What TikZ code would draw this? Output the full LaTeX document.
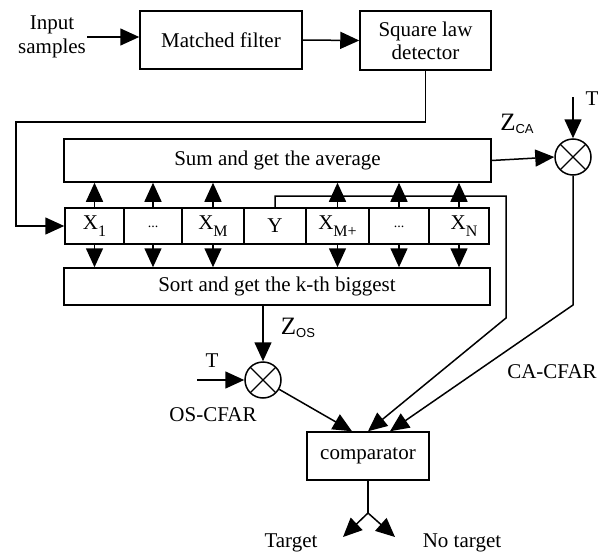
\documentclass[tikz,border=0pt]{standalone}
\usepackage{fontspec}
\setmainfont{Liberation Serif}
\setsansfont{Liberation Sans}
\usetikzlibrary{arrows.meta,calc}
\newcommand\lowsub[1]{\raisebox{-0.7ex}{\fontsize{16}{16}\selectfont #1}}
\newcommand\sfsub[1]{\raisebox{-0.3ex}{\sffamily\fontsize{13}{13}\selectfont #1}}
\tikzset{
  line/.style={line width=1.5pt},
  arr/.style={line width=1.5pt,-{Triangle[length=19pt,width=17pt]}},
  box/.style={draw,line width=1.5pt,rectangle,inner sep=0pt,align=center,font=\fontsize{21}{23}\selectfont},
  cell/.style={box,minimum height=36pt},
  mult/.style={draw,line width=1.5pt,circle,minimum size=36pt,inner sep=0pt,path picture={
      \draw[line width=1.1pt] (path picture bounding box.north west)--(path picture bounding box.south east)
        (path picture bounding box.north east)--(path picture bounding box.south west);}},
  lbl/.style={inner sep=0pt,align=center,font=\fontsize{21}{24}\selectfont},
}
\begin{document}
\begin{tikzpicture}[x=1pt,y=-1pt]
\useasboundingbox (0,0) rectangle (608,554);
% top row
\node[lbl] (input) at (52,37) {Input\\samples};
\node[box,minimum width=162pt,minimum height=58pt] (mf) at (221,40) {Matched filter};
\node[box,minimum width=131pt,minimum height=59pt] (sld) at (425.5,40.5) {Square law\\detector};
\draw[arr] ([xshift=1pt]input.east) -- (input.east -| mf.west);
\draw[arr] (mf.east) -- (sld.west);
% sum box
\node[box,minimum width=427pt,minimum height=43pt] (sum) at (277.5,160.5) {Sum and get the average};
% cells
\node[cell,minimum width=59pt] (x1) at (94.5,226) {X\lowsub{1}};
\node[cell,minimum width=58pt] (d1) at (153,226) {\raisebox{-0.4ex}{\fontsize{14}{14}\selectfont ...}};
\node[cell,minimum width=62pt] (xm) at (213,226) {X\lowsub{M}};
\node[cell,minimum width=62pt] (yy) at (275,226) {Y};
\node[cell,minimum width=63pt] (xmp) at (337.5,226) {X\lowsub{M+}};
\node[cell,minimum width=60pt] (d2) at (399,226) {\raisebox{-0.4ex}{\fontsize{14}{14}\selectfont ...}};
\node[cell,minimum width=60pt] (xn) at (459,226) {\hspace{10pt}X\lowsub{N}};
% sort box
\node[box,minimum width=426pt,minimum height=37pt] (sort) at (277,286.5) {Sort and get the k-th biggest};
% up and down arrows
\foreach \c in {x1,d1,xm,xmp,d2,xn}{
  \draw[arr] (\c.north) -- (\c.north |- sum.south);
  \draw[arr] (\c.south) -- (\c.south |- sort.north);
}
% feed from detector
\coordinate (fa) at (16,122);
\draw[arr] (sld.south) |- (fa) |- (x1.west);
% CA branch
\node[mult] (ca) at (573,157) {};
\draw[arr] (sum.east) -- (ca.west);
\coordinate (tca) at (573,97);
\draw[arr] (tca) -- (ca.north);
\node[lbl,font=\fontsize{21}{21}\selectfont] (tcal) at (592,99) {T};
\node[inner sep=0pt] (zca) at (517,124) {\fontsize{25}{25}\selectfont Z\sfsub{CA}};
% comparator
\node[box,minimum width=122pt,minimum height=48pt] (comp) at (368,456) {comparator};
\coordinate (cab) at (573,305);
\draw[arr] (ca.south) -- (cab) -- ([xshift=22pt]comp.north);
% Y feedback
\coordinate (fb1) at (506,196);
\coordinate (fb2) at (506,318);
\draw[arr] (yy.north) |- (fb1) -- (fb2) -- (comp.north);
% OS branch
\node[mult] (os) at (263,380) {};
\draw[arr] (os.north |- sort.south) -- (os.north);
\node[inner sep=0pt] (zos) at (298,328) {\fontsize{25}{25}\selectfont Z\sfsub{OS}};
\coordinate (tos) at (197,380);
\draw[arr] (tos) -- (os.west);
\node[lbl,font=\fontsize{21}{21}\selectfont] (tosl) at (212,361) {T};
\draw[arr] (os) -- ([xshift=-16pt]comp.north);
\node[lbl] (oscfar) at (213,415) {OS-CFAR};
\node[lbl] (cacfar) at (552,372) {CA-CFAR};
% outputs
\coordinate (j) at (368,513);
\coordinate (tgA) at (343,537);
\coordinate (ntA) at (395,537);
\draw[line] (comp.south) -- (j);
\draw[arr] (j) -- (tgA);
\draw[arr] (j) -- (ntA);
\node[lbl] (tg) at (291,543) {Target};
\node[lbl] (nt) at (462,543) {No target};
\end{tikzpicture}
\end{document}
